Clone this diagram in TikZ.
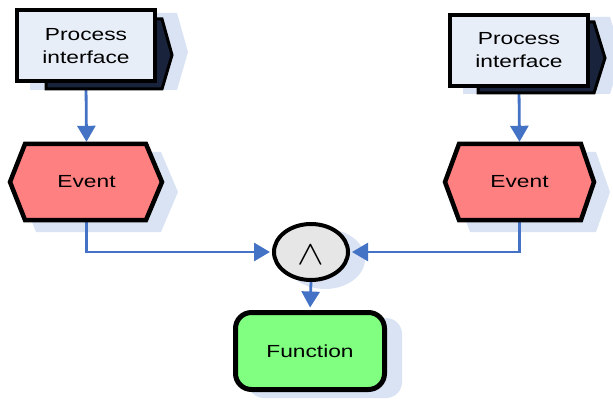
\documentclass[tikz,border=0pt]{standalone}
\usepackage{fontspec}
\newfontfamily\labfont[FakeStretch=1.3]{Liberation Sans}
\usetikzlibrary{arrows.meta,shapes.geometric}
\definecolor{connc}{RGB}{68,114,196}
\definecolor{evfill}{RGB}{255,128,128}
\definecolor{fnfill}{RGB}{128,255,128}
\definecolor{pifill}{RGB}{232,238,248}
\definecolor{pidarkc}{RGB}{25,35,60}
\definecolor{opfill}{RGB}{230,230,230}
\definecolor{shad}{RGB}{218,227,244}
\pgfdeclarelayer{shadowlayer}
\pgfdeclarelayer{lineslayer}
\pgfsetlayers{shadowlayer,lineslayer,main}
\begin{document}
\begin{tikzpicture}[x=1pt,y=-1pt,
  lab/.style={font=\labfont\fontsize{17.5}{23}\selectfont, align=center, text=black},
  pibox/.style={draw=black, line width=4pt, fill=pifill, minimum width=138pt, minimum height=71pt, inner sep=0pt, lab},
  piback/.style={draw=black, line width=3pt, fill=pidarkc, line join=miter},
  shadowfill/.style={fill=shad, draw=none},
  eventshape/.style={draw=black, line width=4.5pt, fill=evfill, line join=miter},
  eventlab/.style={inner sep=0pt, minimum width=155pt, minimum height=80pt, lab},
  opnode/.style={ellipse, draw=black, line width=4pt, fill=opfill, minimum width=74pt, minimum height=56pt, inner sep=0pt},
  fnnode/.style={draw=black, line width=5pt, fill=fnfill, rounded corners=16pt, minimum width=149pt, minimum height=77pt, inner sep=0pt, lab},
  conn/.style={draw=connc, line width=2.8pt, -{Triangle[length=16pt,width=18pt]}}]
\useasboundingbox (0,0) rectangle (613,401);

% ---- shadows
\begin{pgfonlayer}{shadowlayer}
  \fill[shadowfill] (30,13) -- (177,13) -- (188,52) -- (177,90) -- (30,90) -- cycle;
  \fill[shadowfill] (463,17) -- (610,17) -- (622,56) -- (610,94) -- (463,94) -- cycle;
  \fill[shadowfill] (20,192) -- (36,152) -- (161,152) -- (178,192) -- (161,232) -- (36,232) -- cycle;
  \fill[shadowfill] (455,192) -- (470,152) -- (596,152) -- (610,192) -- (596,232) -- (470,232) -- cycle;
  \fill[shadowfill] (325,259) ellipse [x radius=40, y radius=30];
  \fill[shadowfill, rounded corners=16pt] (248,318) rectangle (402,398);
\end{pgfonlayer}

% ---- process interfaces (back shapes)
\draw[piback] (46,19) -- (162,19) -- (172,55) -- (162,89) -- (46,89) -- cycle;
\draw[piback] (478,22) -- (594,22) -- (605,58) -- (594,93) -- (478,93) -- cycle;

% ---- process interfaces (front boxes)
\node[pibox] (pi1) at (86,46) {Process\\interface};
\node[pibox] (pi2) at (519,50.5) {Process\\interface};

% ---- events
\draw[eventshape] (10,182) -- (25,144) -- (146,144) -- (162,182) -- (146,220) -- (25,220) -- cycle;
\draw[eventshape] (445,182) -- (459,144) -- (581,144) -- (594,182) -- (581,220) -- (459,220) -- cycle;
\node[eventlab] (ev1) at (86.5,182) {Event};
\node[eventlab] (ev2) at (519.5,182) {Event};

% ---- AND operator
\node[opnode] (op) at (311,252) {};
\node[inner sep=0pt] (opsym) at (311,255) {\scalebox{4}[3.4]{$\wedge$}};

% ---- function
\node[fnnode] (fn) at (310,351) {Function};

% ---- connectors
\begin{pgfonlayer}{lineslayer}
  \draw[conn] (pi1.south) -- (ev1.north);
  \draw[conn] (pi2.south) -- (ev2.north);
  \draw[conn, shorten >=2pt] (ev1.south) |- (op.west);
  \draw[conn, shorten >=2pt] (ev2.south) |- (op.east);
  \draw[conn, shorten >=2.5pt] (op.south) -- (fn.north);
\end{pgfonlayer}
\end{tikzpicture}
\end{document}
